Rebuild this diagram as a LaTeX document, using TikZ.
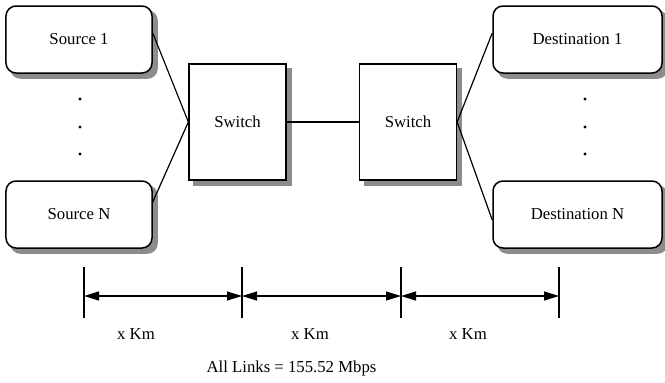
\documentclass[tikz,border=0pt]{standalone}
\usepackage{fontspec}
\setmainfont{Liberation Serif}
\usetikzlibrary{arrows.meta,backgrounds}
\begin{document}
\begin{tikzpicture}[x=1bp,y=-1bp,
  every node/.style={font=\fontsize{16.8}{18}\selectfont},
  endbox/.style={draw,line width=1.5bp,rounded corners=10bp,fill=white,minimum height=67bp,inner sep=0pt},
  swbox/.style={draw,line width=1.3bp,fill=white,minimum width=97bp,minimum height=116bp,inner sep=0pt},
  shadow/.style={fill=black!45},
  link/.style={line width=1.2bp},
  tick/.style={line width=1.2bp},
  dim/.style={line width=1.2bp,{Triangle[length=15bp,width=9bp]}-{Triangle[length=15bp,width=9bp]}},
  dot/.style={circle,fill=black,inner sep=0pt,minimum size=3.2bp},
  lbl/.style={inner sep=0pt}]
\useasboundingbox (0,0) rectangle (665,382);
\node[endbox,minimum width=146bp] (s1) at (79,39.5) {Source 1};
\node[endbox,minimum width=146bp] (sn) at (79,214.5) {Source N};
\node[endbox,minimum width=169bp] (d1) at (577.5,39.5) {Destination 1};
\node[endbox,minimum width=169bp] (dn) at (577.5,214.5) {Destination N};
\node[swbox] (sw1) at (237.5,122) {Switch};
\node[swbox] (sw2) at (408,122) {Switch};
\begin{scope}[on background layer]
  \foreach \n in {s1,sn,d1,dn}{
    \fill[shadow,rounded corners=10bp] ([shift={(5bp,-5bp)}]\n.north west) rectangle ([shift={(5bp,-5bp)}]\n.south east);
  }
  \foreach \n in {sw1,sw2}{
    \fill[shadow] ([shift={(5bp,-5bp)}]\n.north west) rectangle ([shift={(5bp,-5bp)}]\n.south east);
  }
\end{scope}
\node[dot] (ld1) at (80,99) {};
\node[dot] (ld2) at (80,127) {};
\node[dot] (ld3) at (80,154) {};
\node[dot] (rd1) at (585,99) {};
\node[dot] (rd2) at (585,127) {};
\node[dot] (rd3) at (585,154) {};
\draw[link] ([yshift=6.5bp]s1.east) -- (sw1.west);
\draw[link] ([yshift=12.5bp]sn.east) -- (sw1.west);
\draw[link] (sw1.east) -- (sw2.west);
\draw[link] (sw2.east) -- ([yshift=6.5bp]d1.west);
\draw[link] (sw2.east) -- ([yshift=-5.5bp]dn.west);
\foreach \i/\xx in {1/84,2/242,3/401,4/559}{
  \coordinate (t\i a) at (\xx,267);
  \coordinate (t\i b) at (\xx,318);
  \coordinate (m\i) at (\xx,296);
  \draw[tick] (t\i a) -- (t\i b);
}
\draw[dim] (m1) -- (m2);
\draw[dim] (m2) -- (m3);
\draw[dim] (m3) -- (m4);
\node[lbl] (k1) at (136,334) {x Km};
\node[lbl] (k2) at (310,334) {x Km};
\node[lbl] (k3) at (468,334) {x Km};
\node[lbl] (all) at (291.5,368) {All Links = 155.52 Mbps};
\end{tikzpicture}
\end{document}
